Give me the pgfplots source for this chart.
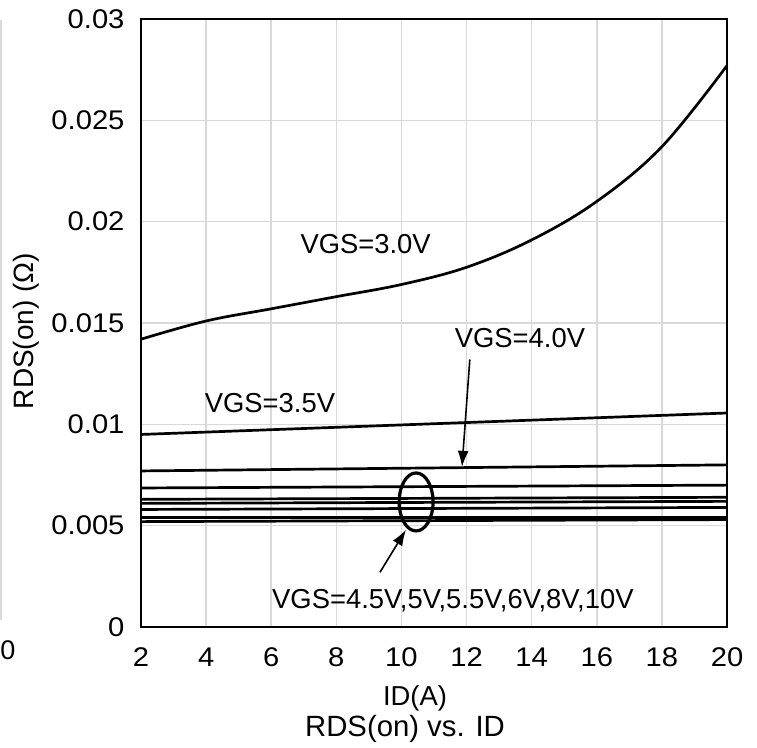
\documentclass[border=0pt]{standalone}
\usepackage{pgfplots}
\pgfplotsset{compat=1.18}
\usetikzlibrary{arrows.meta}
\usepackage{fontspec}
\setmainfont{Liberation Sans}
\newfontfamily\tickfont[FakeStretch=1.08]{Liberation Sans}
\begin{document}
\begin{tikzpicture}
\begin{axis}[
  at={(0,0)}, anchor=south west,
  scale only axis, width=586pt, height=608pt,
  xmin=2, xmax=20, ymin=0, ymax=0.03,
  xtick={2,4,...,20},
  ytick={0,0.005,0.01,0.015,0.02,0.025,0.03},
  yticklabels={0,0.005,0.01,0.015,0.02,0.025,0.03},
  scaled y ticks=false,
  major tick length=0pt,
  grid=major,
  major grid style={draw=black!15, line width=1.6pt},
  axis line style={line width=1.6pt},
  tick label style={font=\tickfont\fontsize{27}{31}\selectfont},
  /pgf/number format/assume math mode=true,
  yticklabel style={xshift=-13pt},
  xticklabel style={yshift=-17pt},
  clip=false,
]
\addplot[black, line width=2.7pt, smooth, tension=0.6] coordinates {
(2,0.0142) (4,0.0151) (6,0.0157) (8,0.0163) (10,0.0169) (12,0.01775) (14,0.0191) (16,0.0210) (18,0.0237) (20,0.0277)};
\addplot[black, line width=2.7pt] coordinates {(2,0.0095) (20,0.01056)};
\addplot[black, line width=2.7pt] coordinates {(2,0.0077) (20,0.0080)};
\addplot[black, line width=2.7pt] coordinates {(2,0.00686) (20,0.0070)};
\addplot[black, line width=2.7pt] coordinates {(2,0.0063) (20,0.0064)};
\addplot[black, line width=2.7pt] coordinates {(2,0.0061) (20,0.0062)};
\addplot[black, line width=2.7pt] coordinates {(2,0.0058) (20,0.0059)};
\addplot[black, line width=2.7pt] coordinates {(2,0.0054) (20,0.0054)};
\addplot[black, line width=2.7pt] coordinates {(2,0.0052) (20,0.0053)};
\node[font=\fontsize{27.4}{31}\selectfont] at (axis cs:8.9,0.0189) {VGS=3.0V};
\node[font=\fontsize{27.4}{31}\selectfont] at (axis cs:13.64,0.01426) {VGS=4.0V};
\node[font=\fontsize{27.4}{31}\selectfont] at (axis cs:5.96,0.01105) {VGS=3.5V};
\node[font=\fontsize{27.4}{31}\selectfont] at (axis cs:11.58,0.00128) {VGS=4.5V,5V,5.5V,6V,8V,10V};
\draw[line width=1.6pt, -{Latex[length=16pt,width=11pt]}] (axis cs:12.1,0.0132) -- (axis cs:11.86,0.0079);
\draw[line width=1.6pt, -{Latex[length=16pt,width=11pt]}] (axis cs:9.34,0.0027) -- (axis cs:10.14,0.0048);
\draw[line width=3.2pt] (axis cs:10.45,0.00617) ellipse [x radius=17pt, y radius=29pt];
\node[font=\fontsize{28}{32}\selectfont, rotate=90] at (-115pt,296pt) {RDS(on) (Ω)};
\node[font=\fontsize{27.4}{31}\selectfont] at (274pt,-71pt) {ID(A)};
\node[font=\fontsize{29.3}{33}\selectfont] at (264pt,-102pt) {RDS(on) vs. ID};
\draw[black!15, line width=1.6pt] (-140pt,7pt) -- (-140pt,607pt);
\node[font=\fontsize{27}{31}\selectfont] at (-133pt,-23pt) {0};
\end{axis}
\pgfresetboundingbox
\path (-141pt,-120pt) rectangle (616pt,627pt);
\end{tikzpicture}
\end{document}
